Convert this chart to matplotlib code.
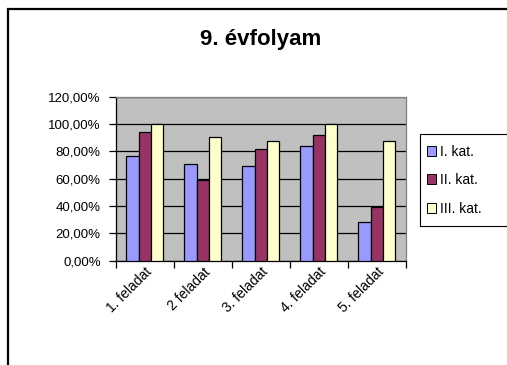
import matplotlib
matplotlib.use("Agg")
import matplotlib.pyplot as plt
from matplotlib.patches import Rectangle
from matplotlib.ticker import FixedLocator, FuncFormatter
import numpy as np

plt.rcParams['font.family'] = ['Liberation Sans', 'DejaVu Sans']

categories = ["1. feladat", "2 feladat", "3. feladat", "4. feladat", "5. feladat"]
series_names = ["I. kat.", "II. kat.", "III. kat."]
kat1 = [0.763, 0.710, 0.693, 0.837, 0.285]
kat2 = [0.944, 0.588, 0.820, 0.917, 0.390]
kat3 = [1.000, 0.902, 0.873, 1.000, 0.873]
colors = ["#9999FF", "#993366", "#FFFFCC"]
y_ticks = [0.0, 0.2, 0.4, 0.6, 0.8, 1.0, 1.2]
title = "9. évfolyam"

W, H = 507, 365
fig = plt.figure(figsize=(W / 100, H / 100), dpi=100)
fig.patch.set_facecolor("white")

L, R, T, B = 116, 405.7, 96.7, 260.7
ax = fig.add_axes([L / W, 1 - B / H, (R - L) / W, (B - T) / H])
ax.set_facecolor("#C0C0C0")

x = np.arange(len(categories))
bw = 0.213
for i, (vals, name, c) in enumerate(zip([kat1, kat2, kat3], series_names, colors)):
    ax.bar(x + (i - 1) * bw, vals, width=bw, color=c, edgecolor="black",
           linewidth=0.9, label=name, zorder=3)

ax.set_xlim(-0.5, len(categories) - 0.5)
ax.set_ylim(0, 1.2)
ax.set_yticks(y_ticks)
ax.yaxis.set_major_formatter(FuncFormatter(lambda v, p: f"{v*100:.2f}%".replace(".", ",")))
ax.grid(axis="y", color="black", linewidth=0.9, zorder=1)
ax.set_axisbelow(True)

ax.xaxis.set_major_locator(FixedLocator(np.arange(-0.5, len(categories), 1.0)))
ax.xaxis.set_major_formatter(FuncFormatter(lambda v, p: ""))
ax.xaxis.set_minor_locator(FixedLocator(x))
ax.set_xticklabels(categories, minor=True, rotation=45, ha="right", va="top",
                   rotation_mode="anchor", fontsize=10)
ax.tick_params(axis="x", which="minor", length=0, pad=3)
ax.tick_params(axis="x", which="major", length=5, width=0.9, direction="out", color="black")
ax.tick_params(axis="y", length=5, width=0.9, direction="out", labelsize=9.5, pad=6)

for s in ["left", "bottom"]:
    ax.spines[s].set_color("black")
    ax.spines[s].set_linewidth(0.9)
for s in ["top", "right"]:
    ax.spines[s].set_color("#808080")
    ax.spines[s].set_linewidth(0.9)

fig.text(260.5 / W, 1 - 40 / H, title, ha="center", va="center",
         fontsize=16, fontweight="bold")

# legend
leg = fig.legend(loc="upper left", bbox_to_anchor=(421 / W, 1 - 139 / H),
                 frameon=False, fontsize=10, handlelength=0.7, handleheight=0.7,
                 handletextpad=0.25, labelspacing=1.05, borderaxespad=0)
for h in leg.legend_handles:
    h.set_edgecolor("black")
    h.set_linewidth(0.7)
fig.add_artist(Rectangle((420 / W, 1 - 226 / H), 100 / W, 92 / H,
                         transform=fig.transFigure, fill=False,
                         edgecolor="black", linewidth=0.8))

# outer chart frame
fig.add_artist(Rectangle((8 / W, -0.1), 1.2, (1 - 9 / H) + 0.1,
                         transform=fig.transFigure, fill=False,
                         edgecolor="black", linewidth=1.6))

fig.savefig("out.png", dpi=100)
